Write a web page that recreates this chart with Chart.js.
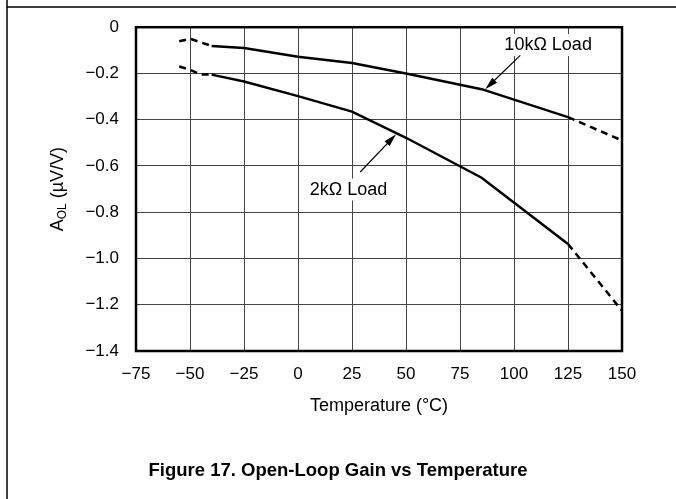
<!DOCTYPE html>
<html>
<head>
<meta charset="utf-8">
<script src="https://cdn.jsdelivr.net/npm/chart.js@4/dist/chart.umd.min.js"></script>
<style>
  html, body { margin: 0; padding: 0; background: #fff; }
  #wrap { width: 676px; height: 499px; position: relative; }
</style>
</head>
<body>
<div id="wrap"><canvas id="gainChart"></canvas></div>
<script>
// values
const temps10k = [-55, -50, -40, -25, 0, 25, 50, 85, 125, 150];
const gain10k = [-0.061, -0.05, -0.081, -0.09, -0.128, -0.155, -0.2, -0.268, -0.389, -0.49];
const temps2k = [-55, -50, -45, -40, -25, 0, 25, 50, 85, 125, 150];
const gain2k = [-0.17, -0.184, -0.205, -0.205, -0.235, -0.298, -0.365, -0.478, -0.651, -0.937, -1.226];
const xTicks = [-75, -50, -25, 0, 25, 50, 75, 100, 125, 150];
const yTicks = [0, -0.2, -0.4, -0.6, -0.8, -1.0, -1.2, -1.4];

// number of dashed segments at the start of each curve (last one is always dashed)
const leadDashed = { '10kΩ Load': 2, '2kΩ Load': 3 };

const FONT = '"Liberation Sans", Arial, Helvetica, sans-serif';
Chart.defaults.font.family = FONT;
Chart.defaults.color = '#000';

const minus = s => String(s).replace('-', '\u2212');

function toPoints(xs, ys) {
  return xs.map((x, i) => ({ x: x, y: ys[i] }));
}

function dashedSegment(label, count) {
  return ctx => {
    const i = ctx.p0DataIndex;
    return (i < leadDashed[label] || i >= count - 2) ? [7, 5] : undefined;
  };
}

function arrow(ctx, x0, y0, x1, y1) {
  const a = Math.atan2(y1 - y0, x1 - x0);
  const len = 13, hw = 3.5;
  ctx.beginPath();
  ctx.moveTo(x0, y0);
  ctx.lineTo(x1 - Math.cos(a) * len * 0.8, y1 - Math.sin(a) * len * 0.8);
  ctx.lineWidth = 1.2;
  ctx.strokeStyle = '#000';
  ctx.stroke();
  ctx.beginPath();
  ctx.moveTo(x1, y1);
  ctx.lineTo(x1 - Math.cos(a) * len - Math.sin(a) * hw, y1 - Math.sin(a) * len + Math.cos(a) * hw);
  ctx.lineTo(x1 - Math.cos(a) * len + Math.sin(a) * hw, y1 - Math.sin(a) * len - Math.cos(a) * hw);
  ctx.closePath();
  ctx.fillStyle = '#000';
  ctx.fill();
}

function label(ctx, text, x, y) {
  ctx.font = '18px ' + FONT;
  const w = ctx.measureText(text).width;
  ctx.fillStyle = '#fff';
  ctx.fillRect(x - w / 2 - 3, y - 11, w + 6, 22);
  ctx.fillStyle = '#000';
  ctx.textAlign = 'center';
  ctx.textBaseline = 'middle';
  ctx.fillText(text, x, y);
}

const figurePlugin = {
  id: 'figure',
  beforeDraw(chart) {
    const ctx = chart.ctx;
    ctx.save();
    ctx.fillStyle = '#fff';
    ctx.fillRect(0, 0, chart.width, chart.height);
    ctx.strokeStyle = '#000';
    ctx.lineWidth = 1.5;
    ctx.beginPath();
    ctx.moveTo(7, 0);
    ctx.lineTo(7, chart.height);
    ctx.moveTo(7, 7);
    ctx.lineTo(chart.width, 7);
    ctx.stroke();
    ctx.restore();
  },
  afterDatasetsDraw(chart) {
    const ctx = chart.ctx;
    const a = chart.chartArea;
    const xs = chart.scales.x, ys = chart.scales.y;
    ctx.save();

    // plot frame
    ctx.strokeStyle = '#000';
    ctx.lineWidth = 2.5;
    ctx.strokeRect(a.left, a.top, a.right - a.left, a.bottom - a.top);

    // curve labels with arrows
    label(ctx, '10kΩ Load', xs.getPixelForValue(115.8), ys.getPixelForValue(-0.077));
    arrow(ctx, xs.getPixelForValue(102.9), ys.getPixelForValue(-0.122),
               xs.getPixelForValue(86.7), ys.getPixelForValue(-0.268));
    label(ctx, '2kΩ Load', xs.getPixelForValue(23.4), ys.getPixelForValue(-0.702));
    arrow(ctx, xs.getPixelForValue(28.8), ys.getPixelForValue(-0.626),
               xs.getPixelForValue(45.4), ys.getPixelForValue(-0.463));

    // x axis title
    ctx.fillStyle = '#000';
    ctx.font = '18px ' + FONT;
    ctx.textAlign = 'center';
    ctx.textBaseline = 'middle';
    ctx.fillText('Temperature (°C)', (a.left + a.right) / 2, a.bottom + 55);

    // y axis title with subscript
    ctx.save();
    ctx.translate(58, (a.top + a.bottom) / 2);
    ctx.rotate(-Math.PI / 2);
    ctx.textAlign = 'left';
    ctx.font = '18px ' + FONT;
    const wA = ctx.measureText('A').width;
    const wRest = ctx.measureText(' (µV/V)').width;
    ctx.font = '12px ' + FONT;
    const wSub = ctx.measureText('OL').width;
    let px = -(wA + wSub + wRest) / 2;
    ctx.font = '18px ' + FONT;
    ctx.fillText('A', px, 0);
    px += wA;
    ctx.font = '12px ' + FONT;
    ctx.fillText('OL', px, 5);
    px += wSub;
    ctx.font = '18px ' + FONT;
    ctx.fillText(' (µV/V)', px, 0);
    ctx.restore();

    // caption
    ctx.font = 'bold 18.5px ' + FONT;
    ctx.textAlign = 'center';
    ctx.fillText('Figure 17. Open-Loop Gain vs Temperature', chart.width / 2, 471);
    ctx.restore();
  }
};

const ctx = document.getElementById('gainChart').getContext('2d');
const gainChart = new Chart(ctx, {
  type: 'line',
  data: {
    datasets: [
      {
        label: '10kΩ Load',
        data: toPoints(temps10k, gain10k),
        segment: { borderDash: dashedSegment('10kΩ Load', temps10k.length) }
      },
      {
        label: '2kΩ Load',
        data: toPoints(temps2k, gain2k),
        segment: { borderDash: dashedSegment('2kΩ Load', temps2k.length) }
      }
    ]
  },
  options: {
    responsive: true,
    maintainAspectRatio: false,
    animation: false,
    layout: { padding: { left: 0, top: 22, right: 54, bottom: 0 } },
    elements: {
      line: { borderColor: '#000', borderWidth: 2.5, tension: 0, fill: false },
      point: { radius: 0, hoverRadius: 0 }
    },
    scales: {
      x: {
        type: 'linear',
        min: -75,
        max: 150,
        afterBuildTicks: axis => { axis.ticks = xTicks.map(v => ({ value: v })); },
        afterFit: axis => { axis.height = 148; },
        ticks: { font: { size: 17 }, padding: 13, maxRotation: 0, callback: v => minus(v) },
        grid: { color: '#444', lineWidth: 1, drawTicks: false },
        border: { display: false }
      },
      y: {
        type: 'linear',
        min: -1.4,
        max: 0,
        afterBuildTicks: axis => { axis.ticks = yTicks.map(v => ({ value: v })); },
        afterFit: axis => { axis.width = 136; },
        ticks: { font: { size: 17 }, padding: 17, callback: v => v === 0 ? '0' : minus(v.toFixed(1)) },
        grid: { color: '#444', lineWidth: 1, drawTicks: false },
        border: { display: false }
      }
    },
    plugins: {
      legend: { display: false },
      tooltip: { enabled: false },
      title: { display: false }
    }
  },
  plugins: [figurePlugin]
});
</script>
</body>
</html>
